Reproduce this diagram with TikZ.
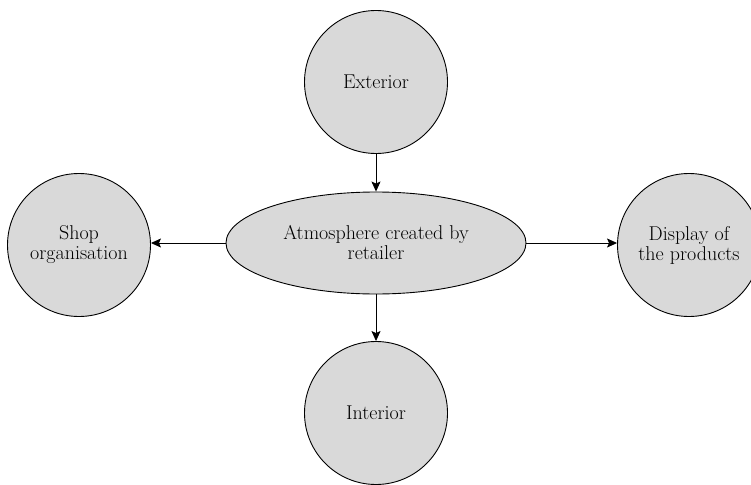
\documentclass[tikz,border=0pt]{standalone}
\usetikzlibrary{arrows.meta,shapes.geometric}
\definecolor{nodefill}{HTML}{D9D9D9}
\begin{document}
\begin{tikzpicture}[x=1pt,y=-1pt,
  bubble/.style={circle,draw=black,fill=nodefill,line width=0.9pt,minimum size=143pt,inner sep=0pt,align=center,font=\fontsize{20}{20}\selectfont},
  hub/.style={ellipse,draw=black,fill=nodefill,line width=0.9pt,minimum width=300pt,minimum height=102pt,inner sep=0pt,align=center,font=\fontsize{20}{20}\selectfont},
  link/.style={-{Stealth[length=10pt,width=9pt,inset=2pt]},line width=0.9pt}]
\useasboundingbox (0,0) rectangle (751,484);
\node[hub] (c) at (376,243) {Atmosphere created by\\retailer};
\node[bubble] (ext) at (376,82) {Exterior};
\node[bubble] (int) at (376,413) {Interior};
\node[bubble] (shop) at (79,245) {Shop\\organisation};
\node[bubble] (disp) at (689,245) {Display of\\the products};
\draw[link] (ext.south) -- (c.north);
\draw[link] (c.south) -- (int.north);
\draw[link] (c.west) -- (shop.east |- c.west);
\draw[link] (c.east) -- (disp.west |- c.east);
\end{tikzpicture}
\end{document}
